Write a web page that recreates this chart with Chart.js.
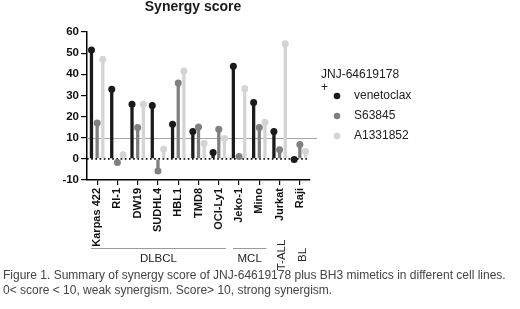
<!DOCTYPE html>
<html><head><meta charset="utf-8">
<script src="https://cdn.jsdelivr.net/npm/chart.js@4/dist/chart.umd.min.js"></script>
<style>
html,body{margin:0;padding:0;background:#fff;}
#wrap{position:relative;width:520px;height:309px;}
#cap{position:absolute;left:3px;top:268px;font:12px Arial,"Liberation Sans",sans-serif;color:#444;line-height:15px;white-space:nowrap;}
</style></head><body>
<div id="wrap"><canvas id="c" width="520" height="309"></canvas>
<div id="cap">Figure 1. Summary of synergy score of JNJ-64619178 plus BH3 mimetics in different cell lines.<br>0&lt; score &lt; 10, weak synergism. Score&gt; 10, strong synergism.</div></div>
<script>
const cellLines = ["Karpas 422","RI-1","DW19","SUDHL4","HBL1","TMD8","OCI-Ly1","Jeko-1","Mino","Jurkat","Raji"];
const venetoclax = [51.5,32.9,25.8,25.2,16.4,12.9,3.0,43.8,26.6,12.9,-0.3];
const s63845 = [17.0,-1.7,14.8,-5.8,35.9,15.1,14.0,1.1,14.8,4.3,6.8];
const a1331852 = [47.1,1.9,25.8,4.6,41.6,7.4,9.6,33.2,17.3,54.5,3.5];
const seriesNames = ["venetoclax","S63845","A1331852"];
const yTicks = [-10,0,10,20,30,40,50,60];
const thresholds = [0,10];
const groupNames = ["DLBCL","MCL","T-ALL","BL"];
const groupFrom = [0,7,9,10];
const groupTo = [6,8,9,10];
const legendTitle = ["JNJ-64619178","+"];
const chartTitle = "Synergy score";

const FONT = "Arial, 'Liberation Sans', sans-serif";
const colors = ['#1a1a1a','#808080','#d4d4d4'];

const titlePlugin = {
  id:'customTitle',
  afterDraw(chart){
    const {ctx, chartArea:a} = chart;
    ctx.save();
    ctx.font = "bold 14px " + FONT;
    ctx.fillStyle = '#1a1a1a';
    ctx.textAlign='center'; ctx.textBaseline='middle';
    ctx.fillText(chartTitle, a.left + 106, 7.5);
    ctx.restore();
  }
};
const refLines = {
  id:'refLines',
  beforeDatasetsDraw(chart){
    const {ctx, chartArea:a, scales:{y}} = chart;
    ctx.save();
    const y10 = Math.round(y.getPixelForValue(thresholds[1]))+0.5;
    ctx.strokeStyle='#a8a8a8'; ctx.lineWidth=1;
    ctx.beginPath(); ctx.moveTo(a.left,y10); ctx.lineTo(a.right+7,y10); ctx.stroke();
    const y0 = y.getPixelForValue(thresholds[0]);
    ctx.strokeStyle='#000'; ctx.lineWidth=1.6; ctx.setLineDash([1.6,2.6]);
    ctx.beginPath(); ctx.moveTo(a.left,y0); ctx.lineTo(a.right-3,y0); ctx.stroke();
    ctx.restore();
  }
};
const dots = {
  id:'dots',
  afterDatasetsDraw(chart){
    const ctx = chart.ctx;
    ctx.save();
    chart.data.datasets.forEach((ds,i)=>{
      const meta = chart.getDatasetMeta(i);
      ctx.fillStyle = ds.backgroundColor;
      meta.data.forEach(el=>{
        ctx.beginPath(); ctx.arc(el.x, el.y, 3.5, 0, Math.PI*2); ctx.fill();
      });
    });
    ctx.restore();
  }
};
const groupsPlugin = {
  id:'groups',
  afterDraw(chart){
    const {ctx, chartArea:a, scales:{x}} = chart;
    const cw = x.width / chart.data.labels.length;
    ctx.save();
    ctx.font = "11.5px " + FONT;
    ctx.fillStyle = '#222';
    groupNames.forEach((g,i)=>{
      const l = x.getPixelForValue(groupFrom[i]) - cw/2;
      const r = x.getPixelForValue(groupTo[i]) + cw/2;
      if (groupTo[i] > groupFrom[i]) {
        ctx.strokeStyle = '#9a9a9a'; ctx.lineWidth = 1;
        ctx.beginPath(); ctx.moveTo(l+4, a.bottom+68.5); ctx.lineTo(r-3, a.bottom+68.5); ctx.stroke();
        ctx.textAlign='center'; ctx.textBaseline='middle';
        ctx.fillText(g, (l+4+r-3)/2, a.bottom+79);
      } else {
        ctx.save();
        ctx.translate((l+r)/2+2.5, a.bottom+75);
        ctx.rotate(-Math.PI/2);
        ctx.textAlign='center'; ctx.textBaseline='middle';
        ctx.fillText(g, 0, 0);
        ctx.restore();
      }
    });
    ctx.restore();
  }
};
const legendPlugin = {
  id:'customLegend',
  afterDraw(chart){
    const {ctx, chartArea:a} = chart;
    const x0 = a.right + 11;
    ctx.save();
    ctx.font = "12px " + FONT;
    ctx.fillStyle = '#222';
    ctx.textAlign='left'; ctx.textBaseline='middle';
    ctx.fillText(legendTitle[0], x0, 75);
    ctx.fillText(legendTitle[1], x0, 88);
    chart.data.datasets.forEach((ds,i)=>{
      const yy = 96 + i*20;
      ctx.fillStyle = ds.backgroundColor;
      ctx.beginPath(); ctx.arc(x0+16, yy, 3.3, 0, Math.PI*2); ctx.fill();
      ctx.fillStyle = '#222';
      ctx.fillText(ds.label, x0+33, yy);
    });
    ctx.restore();
  }
};

new Chart(document.getElementById('c'), {
  type:'bar',
  data:{
    labels:cellLines,
    datasets:[
      {label:seriesNames[0], data:venetoclax, backgroundColor:colors[0]},
      {label:seriesNames[1], data:s63845, backgroundColor:colors[1]},
      {label:seriesNames[2], data:a1331852, backgroundColor:colors[2]}
    ]
  },
  options:{
    responsive:false, animation:false,
    layout:{padding:{left:47,right:210,top:32,bottom:54}},
    datasets:{bar:{categoryPercentage:0.84, barPercentage:0.58}},
    plugins:{legend:{display:false}, tooltip:{enabled:false}, title:{display:false}},
    scales:{
      x:{
        offset:true,
        grid:{offset:false, drawOnChartArea:false, drawTicks:true, tickLength:5, color:'#000', lineWidth:1.2},
        border:{color:'#000', width:1.5},
        ticks:{minRotation:90, maxRotation:90, autoSkip:false, padding:3, color:'#111',
          font:{family:FONT,size:11,weight:'bold'}},
        afterFit:s=>{s.height=75;}
      },
      y:{
        min:-10, max:60,
        afterBuildTicks:s=>{s.ticks = yTicks.map(v=>({value:v}));},
        grid:{drawOnChartArea:false, drawTicks:true, tickLength:6, color:'#000', lineWidth:1.2},
        border:{color:'#000', width:1.5},
        ticks:{padding:2, color:'#111', font:{family:FONT,size:11.5,weight:'bold'}},
        afterFit:s=>{s.width=40;}
      }
    }
  },
  plugins:[refLines, dots, groupsPlugin, legendPlugin, titlePlugin]
});
</script>
</body></html>
